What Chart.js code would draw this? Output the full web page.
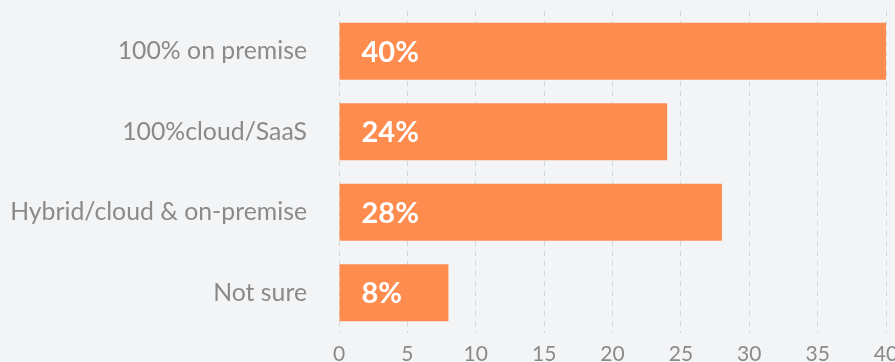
<!DOCTYPE html>
<html>
<head>
<meta charset="utf-8">
<script src="https://cdn.jsdelivr.net/npm/chart.js@4.4.1/dist/chart.umd.min.js"></script>
<style>
  html, body { margin: 0; padding: 0; background: #f3f4f6; overflow: hidden; }
  #wrap { position: relative; width: 895px; height: 362px; overflow: hidden; }
  canvas { display: block; }
</style>
</head>
<body>
<div id="wrap"><canvas id="c" width="895" height="368"></canvas></div>
<script>
const categories = ['100% on premise', '100%cloud/SaaS', 'Hybrid/cloud & on-premise', 'Not sure'];
const shares = [40, 24, 28, 8];
const xTicks = [0, 5, 10, 15, 20, 25, 30, 35, 40];

const FONT = 'Lato, "Open Sans", sans-serif';
const BAR_COLOR = '#ff8c4f';

// White percentage label inside each bar, near its base
const barLabels = {
  id: 'barLabels',
  afterDatasetsDraw(chart) {
    const ctx = chart.ctx;
    const meta = chart.getDatasetMeta(0);
    ctx.save();
    ctx.fillStyle = '#ffffff';
    ctx.font = 'bold 29px ' + FONT;
    ctx.textAlign = 'left';
    ctx.textBaseline = 'middle';
    meta.data.forEach((bar, i) => {
      ctx.fillText(shares[i] + '%', bar.base + 22, bar.y + 1);
    });
    ctx.restore();
  }
};

new Chart(document.getElementById('c'), {
  type: 'bar',
  data: {
    labels: categories,
    datasets: [{
      data: shares,
      backgroundColor: BAR_COLOR,
      borderWidth: 0,
      categoryPercentage: 1,
      barPercentage: 0.708
    }]
  },
  options: {
    indexAxis: 'y',
    responsive: false,
    animation: false,
    layout: { padding: { top: 11, right: 9, left: 0, bottom: 0 } },
    plugins: { legend: { display: false }, tooltip: { enabled: false } },
    scales: {
      x: {
        min: 0,
        max: 40,
        afterBuildTicks(scale) { scale.ticks = xTicks.map(v => ({ value: v })); },
        afterFit(scale) {
          scale.paddingRight = 0;
          scale.paddingLeft = 0;
          scale.height = 35;
        },
        grid: {
          color: '#d2d7de',
          lineWidth: 1,
          drawTicks: false
        },
        border: { display: false, dash: [5, 5] },
        ticks: {
          padding: 9,
          color: '#8a8a8a',
          font: { family: FONT, size: 21 }
        }
      },
      y: {
        afterFit(scale) {
          scale.width = 339;
          scale.paddingTop = 0;
          scale.paddingBottom = 0;
        },
        grid: { display: false, drawTicks: false },
        border: { display: false },
        ticks: {
          padding: 32,
          color: '#8a8a8a',
          font: { family: FONT, size: 24.8 }
        }
      }
    }
  },
  plugins: [barLabels]
});
</script>
</body>
</html>
